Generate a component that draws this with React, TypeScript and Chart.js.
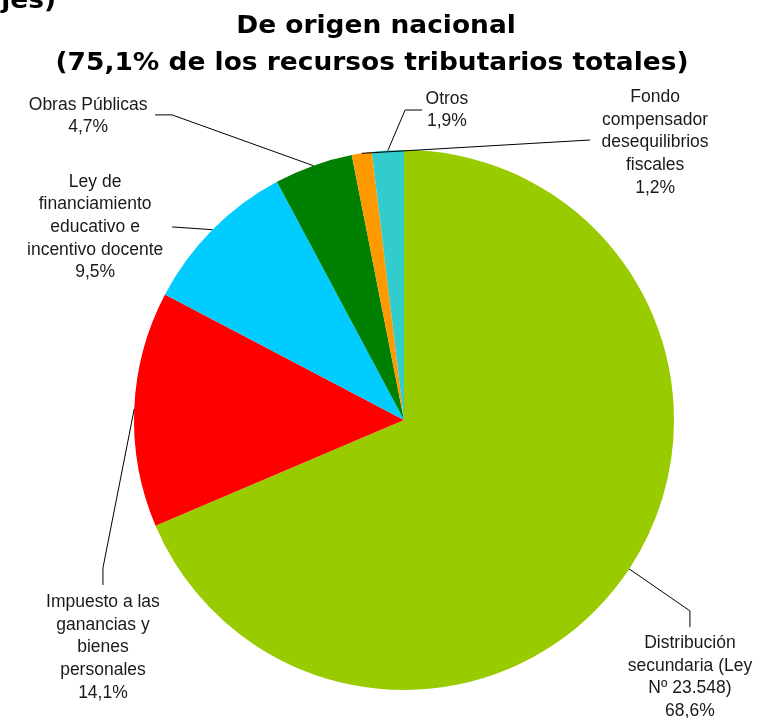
import React, { useEffect, useRef } from "react";
import { Chart, registerables } from "chart.js";

Chart.register(...registerables);

// ---- data ----
const categories: string[][] = [
  ["Distribución", "secundaria (Ley", "Nº 23.548)"],
  ["Impuesto a las", "ganancias y", "bienes", "personales"],
  ["Ley de", "financiamiento", "educativo e", "incentivo docente"],
  ["Obras Públicas"],
  ["Fondo", "compensador", "desequilibrios", "fiscales"],
  ["Otros"],
];
const values = [68.6, 14.1, 9.5, 4.7, 1.2, 1.9];
const valueLabels = ["68,6%", "14,1%", "9,5%", "4,7%", "1,2%", "1,9%"];
const colors = ["#99CC00", "#FF0000", "#00CCFF", "#008000", "#FF9900", "#33CCCC"];
const titleLines = ["De origen nacional", "(75,1% de los recursos tributarios totales)"];
const cutTitle = "(en porcentajes)";

// ---- label layout (offsets from pie centre, in units of radius) ----
const labelLayout = [
  { path: [[1.059, 0.707], [1.059, 0.767]], tx: 1.059, ty: 0.826 },
  { path: [[-1.115, 0.548], [-1.115, 0.611]], tx: -1.115, ty: 0.674 },
  { path: [[-0.859, -0.715]], tx: -1.144, ty: -0.882 },
  { path: [[-0.859, -1.130], [-0.922, -1.130]], tx: -1.170, ty: -1.167 },
  { path: [[0.689, -1.037]], tx: 0.930, ty: -1.196 },
  { path: [[0.004, -1.148], [0.067, -1.148]], tx: 0.159, ty: -1.189 },
];

function stretchedText(ctx: CanvasRenderingContext2D, text: string, x: number, y: number, sx: number, align: "center" | "right") {
  ctx.save();
  ctx.translate(x, y);
  ctx.scale(sx, 1);
  ctx.textAlign = align;
  ctx.fillText(text, 0, 0);
  ctx.restore();
}

const labelPlugin = {
  id: "pieLabels",
  afterDraw(chart: any) {
    const ctx: CanvasRenderingContext2D = chart.ctx;
    const meta = chart.getDatasetMeta(0);
    const arcs = meta.data;
    if (!arcs.length) return;
    const cx = arcs[0].x;
    const cy = arcs[0].y;
    const r = arcs[0].outerRadius;
    ctx.save();
    // title
    ctx.fillStyle = "#000";
    ctx.textBaseline = "alphabetic";
    ctx.font = "bold 25px 'DejaVu Sans', sans-serif";
    const w2 = ctx.measureText(titleLines[1]).width;
    const sx = 633 / w2;
    stretchedText(ctx, titleLines[0], cx - 28, 33, sx, "center");
    stretchedText(ctx, titleLines[1], cx - 32, 70, sx, "center");
    stretchedText(ctx, cutTitle, 56, 8, sx, "right");

    // leader lines + labels
    ctx.font = "17.5px 'Liberation Sans', Arial, sans-serif";
    ctx.textAlign = "center";
    ctx.textBaseline = "middle";
    const lh = 22.7;
    arcs.forEach((arc: any, i: number) => {
      const mid = (arc.startAngle + arc.endAngle) / 2;
      const L = labelLayout[i];
      ctx.strokeStyle = "#000";
      ctx.lineWidth = 1;
      ctx.beginPath();
      ctx.moveTo(cx + Math.cos(mid) * r, cy + Math.sin(mid) * r);
      L.path.forEach((p) => ctx.lineTo(cx + p[0] * r, cy + p[1] * r));
      ctx.stroke();
      const lines = [...categories[i], valueLabels[i]];
      ctx.fillStyle = "#1a1a1a";
      lines.forEach((t, k) => {
        ctx.fillText(t, cx + L.tx * r, cy + L.ty * r + k * lh);
      });
    });
    ctx.restore();
  },
};

export default function App() {
  const ref = useRef<HTMLCanvasElement>(null);
  useEffect(() => {
    document.body.style.margin = "0";
    const chart = new Chart(ref.current!, {
      type: "pie",
      data: {
        labels: categories.map((c) => c.join(" ")),
        datasets: [
          {
            data: values,
            backgroundColor: colors,
            borderWidth: 0,
            hoverOffset: 0,
            offset: 0,
          },
        ],
      },
      options: {
        animation: false,
        responsive: false,
        layout: { padding: { left: 134, right: 95, top: 150, bottom: 28 } },
        plugins: {
          legend: { display: false },
          tooltip: { enabled: false },
          title: { display: false },
        },
      },
      plugins: [labelPlugin],
    });
    return () => chart.destroy();
  }, []);
  return (
    <div style={{ position: "absolute", left: 0, top: 0, width: 769, height: 718, background: "#fff" }}>
      <canvas ref={ref} width={769} height={718} style={{ display: "block" }} />
    </div>
  );
}
